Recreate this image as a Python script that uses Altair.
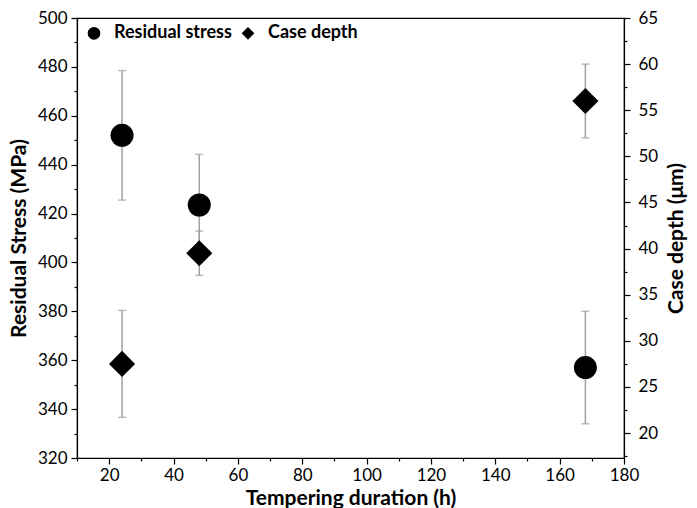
import altair as alt
import pandas as pd

# Tempering duration (h)
hours = [24, 48, 168]
# Residual stress (MPa) and its spread
stress = [452.0, 423.5, 357.0]
stress_err = [26.5, 20.7, 23.0]
# Case depth (um) and its spread
depth = [27.5, 39.5, 56.0]
depth_err = [5.8, 2.4, 4.0]

series_names = ["Residual stress", "Case depth"]

# Axis tick positions (majors carry labels, the rest are minor ticks)
x_ticks = [10, 20, 30, 40, 50, 60, 70, 80, 90, 100, 110, 120, 130, 140, 150, 160, 170, 180]
stress_ticks = [320, 330, 340, 350, 360, 370, 380, 390, 400, 410, 420, 430, 440, 450,
                460, 470, 480, 490, 500]
depth_ticks = [17.5, 20, 22.5, 25, 27.5, 30, 32.5, 35, 37.5, 40, 42.5, 45, 47.5, 50,
               52.5, 55, 57.5, 60, 62.5, 65]

stress_df = pd.DataFrame({
    "hours": hours,
    "value": stress,
    "lo": [v - e for v, e in zip(stress, stress_err)],
    "hi": [v + e for v, e in zip(stress, stress_err)],
    "series": series_names[0],
})
depth_df = pd.DataFrame({
    "hours": hours,
    "value": depth,
    "lo": [v - e for v, e in zip(depth, depth_err)],
    "hi": [v + e for v, e in zip(depth, depth_err)],
    "series": series_names[1],
})

FONT = "Lato"
ERR_COLOR = "#a0a0a0"


def minor_size(step):
    return {"condition": {"test": f"abs(datum.value % {step}) < 1e-6", "value": 6}, "value": 3}


def label_expr(step):
    return f"abs(datum.value % {step}) < 1e-6 ? datum.label : ''"


common_axis = dict(
    grid=False,
    domainColor="black",
    domainWidth=1.2,
    tickColor="black",
    tickWidth=1.2,
    labelColor="black",
    labelFont=FONT,
    labelFontSize=17,
    labelOverlap=False,
    labelFlush=False,
    titleFont=FONT,
    titleFontSize=21,
    titleFontWeight="bold",
    titleColor="black",
)

x_axis = alt.Axis(values=x_ticks, tickSize=minor_size(20), labelExpr=label_expr(20),
                  labelPadding=3, titlePadding=4, **common_axis)
left_axis = alt.Axis(orient="left", values=stress_ticks, tickSize=minor_size(20),
                     labelExpr=label_expr(20), labelPadding=4, titlePadding=8, **common_axis)
right_axis = alt.Axis(orient="right", values=depth_ticks, tickSize=minor_size(5),
                      labelExpr=label_expr(5), labelPadding=8, titlePadding=8,
                      titleAngle=270, titleBaseline="top", **common_axis)

x_enc = alt.X("hours:Q", title="Tempering duration (h)",
              scale=alt.Scale(domain=[10, 180], nice=False, zero=False), axis=x_axis)

stress_scale = alt.Scale(domain=[320, 500], nice=False, zero=False)
depth_scale = alt.Scale(domain=[17.3, 65], nice=False, zero=False)

stress_title = "Residual Stress (MPa)"
depth_title = "Case depth (\u03bcm)"

shape_enc = alt.Shape(
    "series:N",
    scale=alt.Scale(domain=series_names, range=["circle", "diamond"]),
    legend=alt.Legend(
        title=None,
        orient="none",
        legendX=8,
        legendY=6,
        direction="horizontal",
        padding=0,
        columnPadding=6,
        labelOffset=11,
        labelFont=FONT,
        labelFontSize=18,
        labelFontWeight="bold",
        labelColor="black",
        symbolSize=160,
        symbolFillColor="black",
        symbolStrokeColor="black",
    ),
)


def series_layer(df, scale, axis, title, size):
    base = alt.Chart(df)
    y_lo = alt.Y("lo:Q", scale=scale, axis=axis, title=title)
    bars = base.mark_rule(color=ERR_COLOR, strokeWidth=1.5).encode(
        x=x_enc, y=y_lo, y2="hi:Q")
    cap_lo = base.mark_tick(orient="horizontal", color=ERR_COLOR, size=8, thickness=1.5).encode(
        x=x_enc, y=y_lo)
    cap_hi = base.mark_tick(orient="horizontal", color=ERR_COLOR, size=8, thickness=1.5).encode(
        x=x_enc, y=alt.Y("hi:Q", scale=scale, axis=axis, title=title))
    pts = base.mark_point(filled=True, color="black", opacity=1, size=size).encode(
        x=x_enc, y=alt.Y("value:Q", scale=scale, axis=axis, title=title), shape=shape_enc)
    return alt.layer(bars, cap_lo, cap_hi, pts)


stress_layer = series_layer(stress_df, stress_scale, left_axis, stress_title, 529)
depth_layer = series_layer(depth_df, depth_scale, right_axis, depth_title, 680)

chart = (
    alt.layer(stress_layer, depth_layer)
    .resolve_scale(y="independent")
    .properties(
        width=547,
        height=440,
        autosize=alt.AutoSizeParams(type="none"),
        padding={"left": 77, "top": 18, "right": 73, "bottom": 50},
        background="white",
    )
    .configure_view(stroke="black", strokeWidth=1.2)
)

chart.save("out.html", embed_options={"renderer": "svg", "actions": False})
